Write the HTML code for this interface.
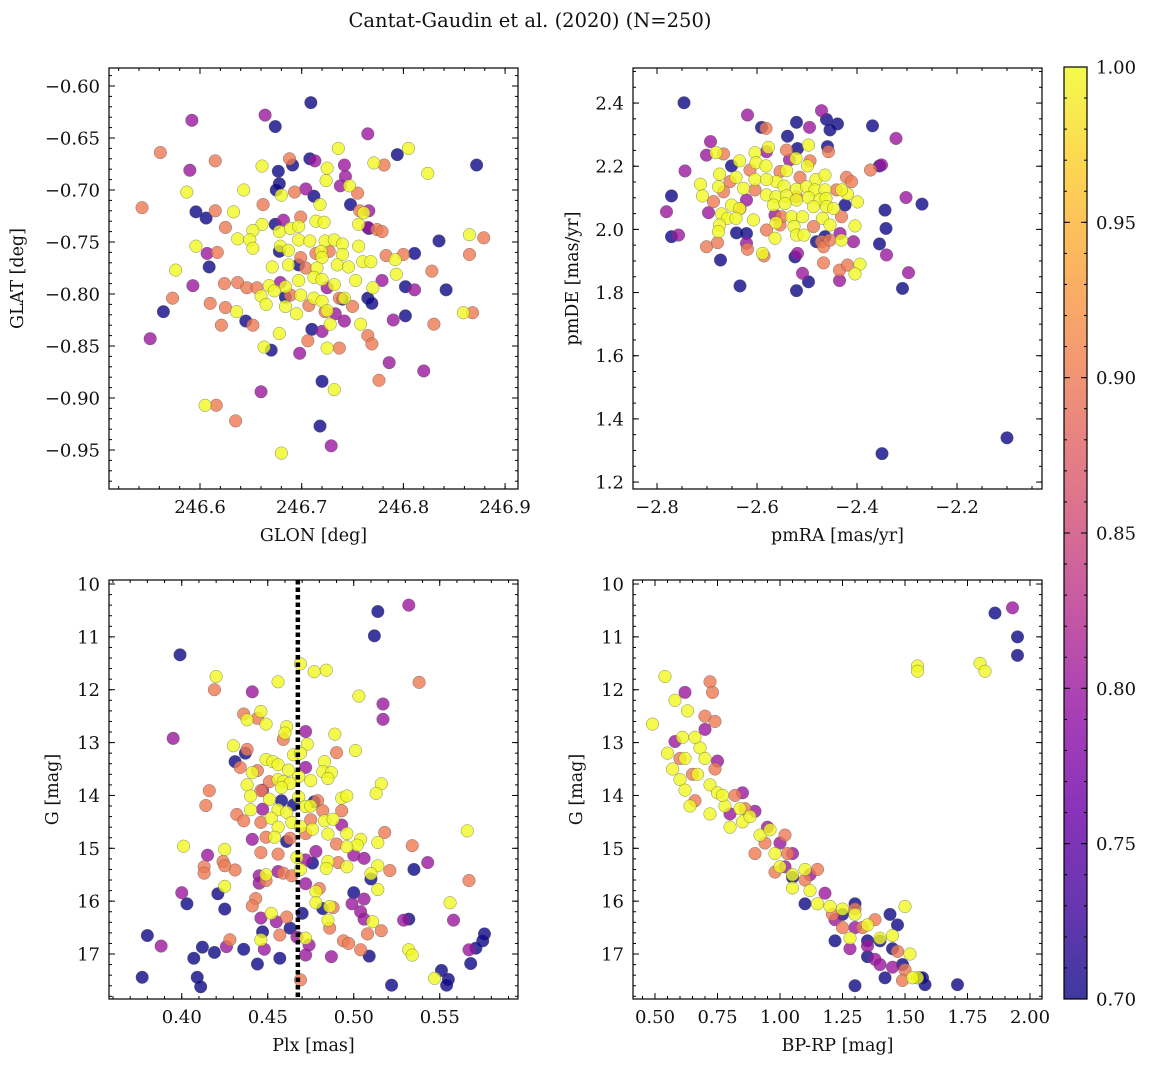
<!DOCTYPE html>
<html><head><meta charset="utf-8"><style>
body{margin:0;background:#fff}
svg text{font-family:"DejaVu Serif","Liberation Serif",serif;fill:#111}
</style></head><body>
<svg id="chart" width="1149" height="1067" viewBox="0 0 1149 1067" xmlns="http://www.w3.org/2000/svg">
<defs>
<linearGradient id="plasma" x1="0" y1="1" x2="0" y2="0">
<stop offset="0" stop-color="#0d0887"/><stop offset="0.1" stop-color="#41049d"/><stop offset="0.2" stop-color="#6a00a8"/><stop offset="0.3" stop-color="#8f0da4"/><stop offset="0.4" stop-color="#b12a90"/><stop offset="0.5" stop-color="#cc4778"/><stop offset="0.6" stop-color="#e16462"/><stop offset="0.7" stop-color="#f2844b"/><stop offset="0.8" stop-color="#fca636"/><stop offset="0.9" stop-color="#fcce25"/><stop offset="1" stop-color="#f0f921"/>
</linearGradient>
</defs>
<text x="530" y="27" text-anchor="middle" font-size="19.5">Cantat-Gaudin et al. (2020) (N=250)</text>
</svg>
<script>
// Panel 1: [glon, glat, prob]
const skyPoints = [
[246.709,-0.616,0.7],[246.674,-0.639,0.7],[246.872,-0.676,0.7],[246.794,-0.666,0.7],[246.708,-0.670,0.7],[246.691,-0.676,0.7],[246.677,-0.682,0.7],[246.678,-0.694,0.7],[246.675,-0.700,0.7],[246.712,-0.706,0.7],[246.748,-0.714,0.7],[246.596,-0.721,0.7],[246.606,-0.727,0.7],[246.674,-0.733,0.7],[246.766,-0.737,0.7],[246.835,-0.749,0.7],[246.811,-0.761,0.7],[246.678,-0.759,0.7],[246.609,-0.774,0.7],[246.802,-0.793,0.7],[246.842,-0.796,0.7],[246.684,-0.803,0.7],[246.765,-0.804,0.7],[246.769,-0.809,0.7],[246.740,-0.805,0.7],[246.564,-0.817,0.7],[246.645,-0.826,0.7],[246.802,-0.821,0.7],[246.710,-0.834,0.7],[246.670,-0.854,0.7],[246.720,-0.884,0.7],[246.718,-0.927,0.7],[246.697,-0.772,0.7],
[246.592,-0.633,0.8],[246.664,-0.628,0.8],[246.765,-0.646,0.8],[246.590,-0.681,0.8],[246.742,-0.676,0.8],[246.743,-0.687,0.8],[246.738,-0.696,0.8],[246.713,-0.672,0.8],[246.704,-0.699,0.8],[246.766,-0.720,0.8],[246.765,-0.736,0.8],[246.682,-0.729,0.8],[246.607,-0.761,0.8],[246.593,-0.792,0.8],[246.679,-0.789,0.8],[246.725,-0.794,0.8],[246.779,-0.787,0.8],[246.811,-0.796,0.8],[246.733,-0.819,0.8],[246.742,-0.826,0.8],[246.720,-0.836,0.8],[246.790,-0.825,0.8],[246.551,-0.843,0.8],[246.698,-0.857,0.8],[246.786,-0.866,0.8],[246.820,-0.874,0.8],[246.660,-0.894,0.8],[246.729,-0.946,0.8],
[246.561,-0.664,0.9],[246.615,-0.672,0.9],[246.688,-0.670,0.9],[246.781,-0.676,0.9],[246.693,-0.702,0.9],[246.755,-0.703,0.9],[246.543,-0.717,0.9],[246.615,-0.720,0.9],[246.662,-0.714,0.9],[246.699,-0.726,0.9],[246.757,-0.720,0.9],[246.625,-0.736,0.9],[246.774,-0.738,0.9],[246.779,-0.740,0.9],[246.879,-0.746,0.9],[246.617,-0.760,0.9],[246.699,-0.765,0.9],[246.714,-0.761,0.9],[246.727,-0.759,0.9],[246.783,-0.763,0.9],[246.800,-0.762,0.9],[246.865,-0.762,0.9],[246.704,-0.775,0.9],[246.828,-0.778,0.9],[246.624,-0.790,0.9],[246.637,-0.789,0.9],[246.646,-0.794,0.9],[246.656,-0.794,0.9],[246.689,-0.801,0.9],[246.737,-0.804,0.9],[246.573,-0.804,0.9],[246.610,-0.809,0.9],[246.625,-0.813,0.9],[246.707,-0.811,0.9],[246.723,-0.817,0.9],[246.750,-0.812,0.9],[246.868,-0.818,0.9],[246.621,-0.830,0.9],[246.652,-0.830,0.9],[246.830,-0.829,0.9],[246.706,-0.845,0.9],[246.737,-0.852,0.9],[246.765,-0.840,0.9],[246.769,-0.848,0.9],[246.776,-0.883,0.9],[246.616,-0.907,0.9],[246.635,-0.922,0.9],
[246.736,-0.660,1],[246.805,-0.660,1],[246.661,-0.677,1],[246.725,-0.679,1],[246.771,-0.674,1],[246.724,-0.691,1],[246.824,-0.684,1],[246.643,-0.700,1],[246.587,-0.702,1],[246.680,-0.705,1],[246.747,-0.696,1],[246.718,-0.714,1],[246.633,-0.721,1],[246.761,-0.722,1],[246.661,-0.733,1],[246.652,-0.739,1],[246.678,-0.740,1],[246.689,-0.737,1],[246.697,-0.735,1],[246.714,-0.730,1],[246.722,-0.731,1],[246.756,-0.733,1],[246.637,-0.747,1],[246.649,-0.748,1],[246.697,-0.748,1],[246.708,-0.749,1],[246.723,-0.749,1],[246.732,-0.748,1],[246.740,-0.752,1],[246.596,-0.754,1],[246.652,-0.756,1],[246.679,-0.754,1],[246.687,-0.758,1],[246.719,-0.759,1],[246.740,-0.762,1],[246.756,-0.754,1],[246.720,-0.765,1],[246.760,-0.769,1],[246.768,-0.769,1],[246.792,-0.767,1],[246.865,-0.743,1],[246.671,-0.774,1],[246.687,-0.772,1],[246.715,-0.775,1],[246.735,-0.772,1],[246.746,-0.774,1],[246.576,-0.777,1],[246.793,-0.781,1],[246.697,-0.787,1],[246.712,-0.784,1],[246.720,-0.786,1],[246.753,-0.787,1],[246.668,-0.792,1],[246.684,-0.793,1],[246.732,-0.791,1],[246.770,-0.794,1],[246.660,-0.802,1],[246.673,-0.797,1],[246.699,-0.801,1],[246.712,-0.804,1],[246.742,-0.804,1],[246.665,-0.810,1],[246.684,-0.812,1],[246.720,-0.807,1],[246.636,-0.817,1],[246.695,-0.819,1],[246.725,-0.816,1],[246.728,-0.829,1],[246.758,-0.829,1],[246.859,-0.818,1],[246.678,-0.838,1],[246.663,-0.851,1],[246.725,-0.852,1],[246.732,-0.892,1],[246.605,-0.907,1],[246.680,-0.953,1]
];
// Panel 2: [pmRA, pmDE, prob]
const pmPoints = [
[-2.746,2.401,0.7],[-2.591,2.323,0.7],[-2.539,2.295,0.7],[-2.521,2.339,0.7],[-2.461,2.348,0.7],[-2.439,2.334,0.7],[-2.454,2.315,0.7],[-2.369,2.328,0.7],[-2.459,2.262,0.7],[-2.519,2.256,0.7],[-2.651,2.201,0.7],[-2.355,2.201,0.7],[-2.771,2.106,0.7],[-2.344,2.061,0.7],[-2.342,2.003,0.7],[-2.355,1.954,0.7],[-2.424,2.077,0.7],[-2.641,1.989,0.7],[-2.621,1.987,0.7],[-2.481,1.961,0.7],[-2.524,1.913,0.7],[-2.673,1.903,0.7],[-2.634,1.821,0.7],[-2.521,1.806,0.7],[-2.497,1.834,0.7],[-2.309,1.813,0.7],[-2.771,1.977,0.7],[-2.464,1.977,0.7],[-2.27,2.08,0.7],[-2.10,1.34,0.7],[-2.35,1.29,0.7],
[-2.619,2.362,0.8],[-2.471,2.376,0.8],[-2.495,2.323,0.8],[-2.322,2.288,0.8],[-2.693,2.278,0.8],[-2.744,2.185,0.8],[-2.701,2.235,0.8],[-2.351,2.204,0.8],[-2.302,2.101,0.8],[-2.781,2.056,0.8],[-2.757,1.982,0.8],[-2.697,2.053,0.8],[-2.621,2.093,0.8],[-2.434,1.987,0.8],[-2.407,1.961,0.8],[-2.341,1.919,0.8],[-2.297,1.863,0.8],[-2.509,1.861,0.8],[-2.435,1.838,0.8],[-2.519,1.924,0.8],[-2.621,1.956,0.8],[-2.564,2.045,0.8],[-2.535,2.220,0.8],[-2.581,2.246,0.8],
[-2.582,2.320,0.9],[-2.667,2.239,0.9],[-2.541,2.251,0.9],[-2.494,2.217,0.9],[-2.457,2.246,0.9],[-2.373,2.188,0.9],[-2.421,2.165,0.9],[-2.411,2.151,0.9],[-2.554,2.183,0.9],[-2.514,2.165,0.9],[-2.614,2.188,0.9],[-2.654,2.151,0.9],[-2.687,2.088,0.9],[-2.667,2.119,0.9],[-2.441,2.125,0.9],[-2.604,2.125,0.9],[-2.581,1.998,0.9],[-2.554,2.014,0.9],[-2.487,2.009,0.9],[-2.471,1.961,0.9],[-2.467,1.945,0.9],[-2.454,1.966,0.9],[-2.701,1.945,0.9],[-2.679,1.958,0.9],[-2.619,1.937,0.9],[-2.467,1.894,0.9],[-2.435,1.871,0.9],[-2.419,1.887,0.9],[-2.431,2.040,0.9],[-2.551,2.040,0.9],[-2.521,2.103,0.9],[-2.634,2.066,0.9],[-2.586,1.916,0.9],
[-2.682,2.243,1],[-2.635,2.217,1],[-2.604,2.243,1],[-2.577,2.260,1],[-2.602,2.211,1],[-2.582,2.201,1],[-2.522,2.225,1],[-2.499,2.201,1],[-2.497,2.267,1],[-2.675,2.175,1],[-2.642,2.165,1],[-2.713,2.143,1],[-2.677,2.135,1],[-2.709,2.106,1],[-2.604,2.158,1],[-2.627,2.130,1],[-2.541,2.186,1],[-2.482,2.158,1],[-2.464,2.172,1],[-2.561,2.151,1],[-2.546,2.137,1],[-2.521,2.127,1],[-2.501,2.135,1],[-2.484,2.125,1],[-2.464,2.125,1],[-2.581,2.109,1],[-2.562,2.103,1],[-2.541,2.106,1],[-2.521,2.093,1],[-2.497,2.101,1],[-2.474,2.095,1],[-2.462,2.098,1],[-2.419,2.112,1],[-2.399,2.087,1],[-2.651,2.077,1],[-2.635,2.066,1],[-2.671,2.049,1],[-2.659,2.035,1],[-2.642,2.035,1],[-2.607,2.030,1],[-2.675,2.014,1],[-2.677,1.993,1],[-2.567,2.077,1],[-2.544,2.082,1],[-2.487,2.072,1],[-2.461,2.072,1],[-2.447,2.066,1],[-2.531,2.040,1],[-2.509,2.040,1],[-2.469,2.035,1],[-2.562,2.021,1],[-2.526,2.009,1],[-2.521,1.982,1],[-2.506,1.982,1],[-2.454,2.014,1],[-2.404,2.011,1],[-2.564,1.972,1],[-2.431,1.966,1],[-2.589,1.924,1],[-2.394,1.890,1],[-2.404,1.859,1],[-2.431,2.125,1],[-2.581,2.158,1]
];
// Panel 3: [plx, G, prob]
const plxPoints = [
[0.514,10.52,0.7],[0.512,10.98,0.7],[0.399,11.34,0.7],[0.437,13.20,0.7],[0.431,13.36,0.7],[0.458,14.10,0.7],[0.465,14.18,0.7],[0.477,14.12,0.7],[0.461,14.87,0.7],[0.476,15.28,0.7],[0.535,15.40,0.7],[0.510,15.58,0.7],[0.500,15.84,0.7],[0.421,15.86,0.7],[0.403,16.05,0.7],[0.425,16.15,0.7],[0.482,16.14,0.7],[0.470,16.23,0.7],[0.532,16.34,0.7],[0.447,16.58,0.7],[0.463,16.51,0.7],[0.380,16.65,0.7],[0.576,16.62,0.7],[0.575,16.75,0.7],[0.571,16.89,0.7],[0.568,17.18,0.7],[0.412,16.87,0.7],[0.419,16.97,0.7],[0.436,16.91,0.7],[0.407,17.08,0.7],[0.457,17.08,0.7],[0.444,17.19,0.7],[0.509,17.04,0.7],[0.377,17.44,0.7],[0.409,17.44,0.7],[0.411,17.62,0.7],[0.522,17.59,0.7],[0.551,17.31,0.7],[0.555,17.48,0.7],[0.554,17.59,0.7],
[0.532,10.40,0.8],[0.441,12.04,0.8],[0.517,12.27,0.8],[0.517,12.56,0.8],[0.395,12.92,0.8],[0.472,12.79,0.8],[0.472,13.47,0.8],[0.447,13.90,0.8],[0.447,14.26,0.8],[0.441,14.83,0.8],[0.415,15.13,0.8],[0.478,15.06,0.8],[0.472,15.22,0.8],[0.500,15.13,0.8],[0.506,15.19,0.8],[0.543,15.27,0.8],[0.445,15.52,0.8],[0.456,15.44,0.8],[0.445,15.66,0.8],[0.472,15.67,0.8],[0.400,15.84,0.8],[0.499,16.05,0.8],[0.506,15.96,0.8],[0.504,16.20,0.8],[0.506,16.34,0.8],[0.446,16.32,0.8],[0.455,16.39,0.8],[0.529,16.36,0.8],[0.558,16.36,0.8],[0.493,14.56,0.8],[0.388,16.85,0.8],[0.426,16.86,0.8],[0.448,16.91,0.8],[0.472,17.02,0.8],[0.474,16.83,0.8],[0.487,17.05,0.8],[0.567,16.92,0.8],[0.467,16.68,0.8],
[0.538,11.86,0.9],[0.419,12.00,0.9],[0.436,12.46,0.9],[0.444,12.54,0.9],[0.459,12.94,0.9],[0.438,13.13,0.9],[0.434,13.47,0.9],[0.444,13.53,0.9],[0.490,13.19,0.9],[0.416,13.91,0.9],[0.414,14.19,0.9],[0.451,13.74,0.9],[0.446,13.91,0.9],[0.479,14.10,0.9],[0.482,14.29,0.9],[0.493,14.29,0.9],[0.432,14.36,0.9],[0.436,14.48,0.9],[0.446,14.51,0.9],[0.475,14.46,0.9],[0.449,14.79,0.9],[0.463,14.81,0.9],[0.472,14.72,0.9],[0.490,14.92,0.9],[0.518,14.70,0.9],[0.534,14.95,0.9],[0.446,15.08,0.9],[0.456,15.11,0.9],[0.424,15.25,0.9],[0.413,15.35,0.9],[0.413,15.47,0.9],[0.431,15.41,0.9],[0.425,15.33,0.9],[0.459,15.47,0.9],[0.464,15.52,0.9],[0.491,15.27,0.9],[0.521,15.42,0.9],[0.449,15.61,0.9],[0.567,15.61,0.9],[0.480,15.76,0.9],[0.443,15.95,0.9],[0.441,16.09,0.9],[0.461,16.30,0.9],[0.488,16.12,0.9],[0.486,16.51,0.9],[0.508,16.62,0.9],[0.516,16.56,0.9],[0.457,16.64,0.9],[0.428,16.73,0.9],[0.494,16.75,0.9],[0.497,16.80,0.9],[0.504,16.92,0.9],[0.469,17.49,0.9],
[0.469,11.51,1],[0.477,11.66,1],[0.484,11.63,1],[0.420,11.75,1],[0.456,11.85,1],[0.503,12.12,1],[0.446,12.41,1],[0.438,12.57,1],[0.449,12.65,1],[0.461,12.70,1],[0.460,12.82,1],[0.489,12.84,1],[0.473,13.03,1],[0.430,13.06,1],[0.501,13.15,1],[0.465,13.23,1],[0.469,13.20,1],[0.449,13.32,1],[0.453,13.36,1],[0.456,13.42,1],[0.483,13.36,1],[0.462,13.52,1],[0.468,13.64,1],[0.482,13.55,1],[0.487,13.57,1],[0.485,13.68,1],[0.441,13.57,1],[0.456,13.70,1],[0.459,13.74,1],[0.463,13.77,1],[0.475,13.72,1],[0.438,13.80,1],[0.458,13.85,1],[0.516,13.78,1],[0.513,13.96,1],[0.440,14.01,1],[0.468,14.03,1],[0.493,14.05,1],[0.496,14.01,1],[0.451,14.07,1],[0.472,14.21,1],[0.475,14.20,1],[0.440,14.27,1],[0.456,14.27,1],[0.461,14.32,1],[0.452,14.43,1],[0.464,14.51,1],[0.469,14.59,1],[0.456,14.60,1],[0.476,14.64,1],[0.483,14.48,1],[0.488,14.45,1],[0.485,14.73,1],[0.496,14.72,1],[0.504,14.83,1],[0.502,14.94,1],[0.496,14.97,1],[0.514,14.89,1],[0.454,14.79,1],[0.566,14.67,1],[0.401,14.96,1],[0.425,15.02,1],[0.467,15.17,1],[0.485,15.25,1],[0.484,15.38,1],[0.496,15.35,1],[0.514,15.33,1],[0.469,15.40,1],[0.510,15.48,1],[0.449,15.50,1],[0.514,15.78,1],[0.425,15.72,1],[0.478,15.82,1],[0.478,16.03,1],[0.486,16.10,1],[0.485,16.36,1],[0.452,16.23,1],[0.511,16.39,1],[0.556,16.03,1],[0.446,16.73,1],[0.472,16.70,1],[0.532,16.92,1],[0.534,17.02,1],[0.547,17.46,1]
];
// Panel 4: [BP-RP, G, prob]
const cmdPoints = [
[1.86,10.55,0.7],[1.95,11.0,0.7],[1.95,11.35,0.7],[1.30,17.6,0.7],[1.57,17.45,0.7],[1.58,17.58,0.7],[1.71,17.58,0.7],[1.56,17.45,0.7],[1.42,17.45,0.7],[1.47,16.45,0.7],[1.44,16.25,0.7],[1.40,16.75,0.7],[1.35,17.05,0.7],[1.25,16.25,0.7],[1.22,16.75,0.7],[1.10,16.05,0.7],[1.05,15.55,0.7],[1.30,16.05,0.7],[1.45,16.90,0.7],[1.35,16.75,0.7],[1.49,17.2,0.7],
[1.93,10.45,0.8],[0.62,12.05,0.8],[0.58,12.98,0.8],[0.70,12.75,0.8],[0.75,13.35,0.8],[0.85,13.95,0.8],[0.90,14.3,0.8],[1.00,14.9,0.8],[1.05,15.1,0.8],[1.12,15.5,0.8],[1.18,15.85,0.8],[1.22,16.35,0.8],[1.30,16.5,0.8],[1.35,16.85,0.8],[1.38,17.1,0.8],[1.28,16.9,0.8],[1.45,17.25,0.8],[1.40,17.2,0.8],[0.80,14.35,0.8],[1.02,15.35,0.8],[0.95,14.6,0.8],
[0.72,11.85,0.9],[0.73,12.05,0.9],[0.70,12.5,0.9],[0.74,12.6,0.9],[0.60,13.3,0.9],[0.65,13.6,0.9],[0.74,13.5,0.9],[0.82,14.0,0.9],[0.86,14.25,0.9],[0.94,14.9,0.9],[1.02,14.75,0.9],[1.03,15.1,0.9],[1.10,15.6,0.9],[1.15,15.4,0.9],[1.21,16.25,0.9],[1.30,16.15,0.9],[1.38,16.35,0.9],[1.47,16.95,0.9],[1.50,17.3,0.9],[1.49,17.5,0.9],[1.25,16.5,0.9],[0.90,15.1,0.9],[0.98,15.45,0.9],[1.33,16.5,0.9],[0.66,14.1,0.9],
[1.55,11.55,1],[1.55,11.65,1],[1.80,11.5,1],[1.82,11.65,1],[0.49,12.65,1],[0.54,11.75,1],[0.58,12.2,1],[0.63,12.4,1],[0.61,12.9,1],[0.55,13.2,1],[0.57,13.5,1],[0.60,13.7,1],[0.62,13.9,1],[0.64,14.2,1],[0.68,13.1,1],[0.70,13.3,1],[0.66,12.9,1],[0.72,13.8,1],[0.75,13.95,1],[0.78,14.2,1],[0.72,14.35,1],[0.80,14.6,1],[0.85,14.5,1],[0.88,14.4,1],[0.92,14.75,1],[0.96,14.65,1],[0.98,15.1,1],[1.00,15.35,1],[1.05,15.5,1],[1.05,15.75,1],[1.10,15.4,1],[1.12,15.8,1],[1.15,16.05,1],[1.20,16.1,1],[1.25,16.15,1],[1.30,16.25,1],[1.35,16.45,1],[1.40,16.7,1],[1.45,16.65,1],[1.50,16.1,1],[1.55,17.45,1],[1.53,17.45,1],[1.52,17.0,1],[1.28,16.7,1],[0.67,13.6,1],[0.77,14.0,1],[0.84,14.25,1],[0.62,13.3,1]
];
const colorbarTicks = [0.70,0.75,0.80,0.85,0.90,0.95,1.00];
const plxLine = 0.4675;

const NS='http://www.w3.org/2000/svg';
const svg=document.getElementById('chart');
function el(tag,attrs,parent){const e=document.createElementNS(NS,tag);for(const k in attrs)e.setAttribute(k,attrs[k]);(parent||svg).appendChild(e);return e;}
const stops=['#0d0887','#41049d','#6a00a8','#8f0da4','#b12a90','#cc4778','#e16462','#f2844b','#fca636','#fcce25','#f0f921'];
function hex(c){return [1,3,5].map(i=>parseInt(c.substr(i,2),16));}
function plasma(p){let t=Math.max(0,Math.min(1,(p-0.7)/0.3))*10;const i=Math.min(9,Math.floor(t)),f=t-i;const a=hex(stops[i]),b=hex(stops[i+1]);return 'rgb('+a.map((v,k)=>Math.round(v+(b[k]-v)*f)).join(',')+')';}
function fmt(v,d){return (v<0?'\u2212':'')+Math.abs(v).toFixed(d);}
const TF=18;

function panel(c){
  const g=el('g',{});
  
  
  const sx=v=>c.px0+(v-c.xmin)/(c.xmax-c.xmin)*(c.px1-c.px0);
  const sy=v=>c.py1-(v-c.ymin)/(c.ymax-c.ymin)*(c.py1-c.py0);
  const syI=v=>c.py0+(v-c.ymin)/(c.ymax-c.ymin)*(c.py1-c.py0);
  const Y=c.invert?syI:sy;
  const pts=c.data.slice().sort((a,b)=>a[2]-b[2]);
  pts.forEach(d=>{
    const m=el('circle',{cx:sx(d[0]),cy:Y(d[1]),r:6.3,fill:plasma(d[2]),'fill-opacity':0.8,stroke:'#555','stroke-width':0.5,'stroke-opacity':0.7},g);
    
    
  });
  if(c.vline!==undefined){
    const l=el('line',{x1:sx(c.vline),x2:sx(c.vline),y1:c.py0,y2:c.py1,stroke:'#000','stroke-width':4.5,'stroke-dasharray':'4.5,3'},g);
    
    
  }
  const fr=el('rect',{x:c.px0,y:c.py0,width:c.px1-c.px0,height:c.py1-c.py0,fill:'none',stroke:'#000','stroke-width':1.2},g);
  
  
  for(let v=Math.ceil(c.xmin/c.xmn-1e-9)*c.xmn;v<=c.xmax;v+=c.xmn){const x=sx(v);el('line',{x1:x,x2:x,y1:c.py1,y2:c.py1-3,stroke:'#000'},g);el('line',{x1:x,x2:x,y1:c.py0,y2:c.py0+3,stroke:'#000'},g);}
  for(let v=Math.ceil(c.ymin/c.ymn-1e-9)*c.ymn;v<=c.ymax;v+=c.ymn){const y=Y(v);el('line',{x1:c.px0,x2:c.px0+3,y1:y,y2:y,stroke:'#000'},g);el('line',{x1:c.px1,x2:c.px1-3,y1:y,y2:y,stroke:'#000'},g);}
  c.xt.forEach(v=>{const x=sx(v);el('line',{x1:x,x2:x,y1:c.py1,y2:c.py1-6,stroke:'#000'},g);el('line',{x1:x,x2:x,y1:c.py0,y2:c.py0+6,stroke:'#000'},g);
    const t=el('text',{x:x,y:c.py1+24,'text-anchor':'middle','font-size':TF},g);t.textContent=fmt(v,c.xd);});
  c.yt.forEach(v=>{const y=Y(v);el('line',{x1:c.px0,x2:c.px0+6,y1:y,y2:y,stroke:'#000'},g);el('line',{x1:c.px1,x2:c.px1-6,y1:y,y2:y,stroke:'#000'},g);
    const t=el('text',{x:c.px0-9,y:y+6.5,'text-anchor':'end','font-size':TF},g);t.textContent=fmt(v,c.yd);});
  const xl=el('text',{x:(c.px0+c.px1)/2,y:c.py1+52,'text-anchor':'middle','font-size':17.5},g);xl.textContent=c.xlabel;
  
  
  const yx=c.ylx, yy=(c.py0+c.py1)/2;
  const yl=el('text',{x:yx,y:yy,'text-anchor':'middle','font-size':17.5,transform:'rotate(-90 '+yx+' '+yy+')'},g);yl.textContent=c.ylabel;
  
  
}
panel({name:'sky-panel',data:skyPoints,px0:109,px1:518,py0:68,py1:489,xmin:246.5105,xmax:246.9127,ymin:-0.9875,ymax:-0.5827,xt:[246.6,246.7,246.8,246.9],yt:[-0.95,-0.9,-0.85,-0.8,-0.75,-0.7,-0.65,-0.6],xd:1,yd:2,xmn:0.02,ymn:0.01,xlabel:'GLON [deg]',ylabel:'GLAT [deg]',ylx:23});
panel({name:'proper-motion-panel',data:pmPoints,px0:633,px1:1042,py0:68,py1:489,xmin:-2.848,xmax:-2.03,ymin:1.178,ymax:2.511,xt:[-2.8,-2.6,-2.4,-2.2],yt:[1.2,1.4,1.6,1.8,2.0,2.2,2.4],xd:1,yd:1,xmn:0.05,ymn:0.05,xlabel:'pmRA [mas/yr]',ylabel:'pmDE [mas/yr]',ylx:578});
panel({name:'parallax-panel',data:plxPoints,px0:109,px1:518,py0:580,py1:999,xmin:0.3577,xmax:0.5955,ymin:9.924,ymax:17.851,invert:true,xt:[0.4,0.45,0.5,0.55],yt:[10,11,12,13,14,15,16,17],xd:2,yd:0,xmn:0.01,ymn:0.2,xlabel:'Plx [mas]',ylabel:'G [mag]',ylx:58});
panel({name:'cmd-panel',data:cmdPoints,px0:633,px1:1042,py0:580,py1:999,xmin:0.412,xmax:2.048,ymin:9.924,ymax:17.851,invert:true,xt:[0.5,0.75,1.0,1.25,1.5,1.75,2.0],yt:[10,11,12,13,14,15,16,17],xd:2,yd:0,xmn:0.05,ymn:0.2,xlabel:'BP-RP [mag]',ylabel:'G [mag]',ylx:582});
// parallax line drawn above points
(function(){
  const x=109+(plxLine-0.3577)/(0.5955-0.3577)*409;
  const l=el('line',{x1:x,x2:x,y1:580,y2:999,stroke:'#000','stroke-width':4.5,'stroke-dasharray':'4.5,3'});
  
  
})();

const cb=el('g',{});


const cx0=1064,cx1=1087,cy0=67,cy1=999;
el('rect',{x:cx0,y:cy0,width:cx1-cx0,height:cy1-cy0,fill:'url(#plasma)','fill-opacity':0.8},cb);
el('rect',{x:cx0,y:cy0,width:cx1-cx0,height:cy1-cy0,fill:'none',stroke:'#000','stroke-width':1.2},cb);
const cy=v=>cy1-(v-0.7)/0.3*(cy1-cy0);
for(let v=0.70;v<=1.0001;v+=0.01){const y=cy(v);el('line',{x1:cx1,x2:cx1-3,y1:y,y2:y,stroke:'#000'},cb);el('line',{x1:cx0,x2:cx0+3,y1:y,y2:y,stroke:'#000'},cb);}
colorbarTicks.forEach(v=>{const y=cy(v);el('line',{x1:cx1,x2:cx1-6,y1:y,y2:y,stroke:'#000'},cb);el('line',{x1:cx0,x2:cx0+6,y1:y,y2:y,stroke:'#000'},cb);
  const t=el('text',{x:cx1+9,y:y+6.5,'font-size':TF},cb);t.textContent=v.toFixed(2);
  
  });
</script>
</body></html>
